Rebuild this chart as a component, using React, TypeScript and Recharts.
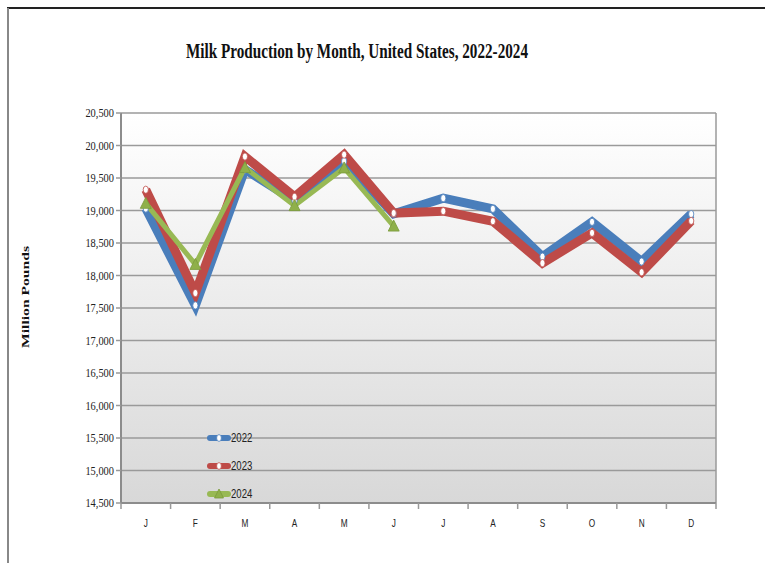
import React from 'react';
import { LineChart, Line, XAxis, YAxis, CartesianGrid, Legend } from 'recharts';

const months = ['J', 'F', 'M', 'A', 'M', 'J', 'J', 'A', 'S', 'O', 'N', 'D'];
const y2022 = [19030, 17540, 19630, 19150, 19760, 18950, 19190, 19025, 18290, 18825, 18215, 18945];
const y2023 = [19320, 17730, 19830, 19210, 19860, 18960, 18990, 18835, 18190, 18655, 18050, 18840];
const y2024: (number | null)[] = [19110, 18170, 19660, 19075, 19655, 18760, null, null, null, null, null, null];
const yTicks = [14500, 15000, 15500, 16000, 16500, 17000, 17500, 18000, 18500, 19000, 19500, 20000, 20500];

const BLUE = '#4a7ebb';
const RED = '#be4b48';
const GREEN = '#98b954';

const data = months.map((m, i) => ({ key: `${m}${i}`, month: m, '2022': y2022[i], '2023': y2023[i], '2024': y2024[i] }));

const W = 766;
const H = 563;
const PLOT_LEFT = 121;
const PLOT_RIGHT = 716;
const BAND = (PLOT_RIGHT - PLOT_LEFT) / months.length;

const YTick = ({ x, y, payload }: any) => (
  <g transform={`translate(${x},${y})`}>
    <text x={0} y={0} dy={4} textAnchor="end" fontFamily="Liberation Serif" fontSize={13} fill="#222" transform="scale(0.8,1)">
      {payload.value.toLocaleString('en-US')}
    </text>
  </g>
);

const AXIS_Y = H - 60;

const XTick = ({ x, payload, index }: any) => (
  <g>
    <line x1={x - BAND / 2} x2={x - BAND / 2} y1={AXIS_Y} y2={AXIS_Y + 6} stroke="#999" strokeWidth={1.5} />
    {index === months.length - 1 && (
      <line x1={x + BAND / 2} x2={x + BAND / 2} y1={AXIS_Y} y2={AXIS_Y + 6} stroke="#999" strokeWidth={1.5} />
    )}
    <g transform={`translate(${x},${AXIS_Y + 24})`}>
      <text textAnchor="middle" fontFamily="Liberation Sans" fontSize={11} fill="#222" transform="scale(0.75,1)">
        {months[index] ?? payload.value}
      </text>
    </g>
  </g>
);

const circleDot = (color: string) => (props: any) => {
  const { cx, cy, index } = props;
  if (cx == null || cy == null) return <g key={index} />;
  return <ellipse key={index} cx={cx} cy={cy} rx={2.6} ry={3.6} fill="#fff" stroke={color} strokeWidth={0.8} />;
};

const triDot = (props: any) => {
  const { cx, cy, index, value } = props;
  if (cx == null || cy == null || value == null) return <g key={index} />;
  return (
    <polygon
      key={index}
      points={`${cx},${cy - 6} ${cx - 5.5},${cy + 5} ${cx + 5.5},${cy + 5}`}
      fill="#8fb04a"
      stroke="#7a9a3a"
      strokeWidth={0.8}
    />
  );
};

const renderLegend = (props: any) => {
  const { payload } = props;
  return (
    <div>
      {(payload || []).map((p: any) => (
        <div key={p.value} style={{ display: 'flex', alignItems: 'center', height: 28 }}>
          <svg width={24} height={12}>
            <line x1={3} x2={21} y1={6} y2={6} stroke={p.color} strokeWidth={6} strokeLinecap="round" />
            {p.value === '2024' ? (
              <polygon points="12,1 7.5,10 16.5,10" fill="#8fb04a" stroke="#7a9a3a" strokeWidth={0.8} />
            ) : (
              <ellipse cx={12} cy={6} rx={2.4} ry={3.4} fill="#fff" stroke={p.color} strokeWidth={0.8} />
            )}
          </svg>
          <span style={{ fontFamily: 'Liberation Sans', fontSize: 12, color: '#222', display: 'inline-block', transform: 'scale(0.8,1)', transformOrigin: 'left center' }}>
            {p.value}
          </span>
        </div>
      ))}
    </div>
  );
};

export default function App() {
  return (
    <div style={{ position: 'absolute', left: 0, top: 0, width: W, height: H, background: '#fff' }}>
      <svg width={0} height={0} style={{ position: 'absolute' }}>
        <defs>
          <linearGradient id="plotBg" x1="0" y1="0" x2="0" y2="1">
            <stop offset="0%" stopColor="#ffffff" />
            <stop offset="100%" stopColor="#d8d8d8" />
          </linearGradient>
        </defs>
      </svg>
      <LineChart width={W} height={H} data={data} margin={{ top: 113, right: W - PLOT_RIGHT, left: PLOT_LEFT - 50, bottom: 30 }}>
        <CartesianGrid fill="url(#plotBg)" stroke="#9a9a9a" strokeWidth={1.5} vertical verticalPoints={[PLOT_RIGHT]} />
        <XAxis
          dataKey="key"
          height={30}
          interval={0}
          padding={{ left: BAND / 2, right: BAND / 2 }}
          axisLine={{ stroke: '#8c8c8c', strokeWidth: 2 }}
          tickLine={false}
          tick={<XTick />}
        />
        <YAxis
          width={50}
          domain={[14500, 20500]}
          ticks={yTicks}
          interval={0}
          axisLine={{ stroke: '#8c8c8c', strokeWidth: 2 }}
          tickLine={{ stroke: '#999', strokeWidth: 1.5 }}
          tickSize={5}
          tick={<YTick />}
        />
        <Legend
          layout="vertical"
          align="center"
          verticalAlign="middle"
          content={renderLegend}
          wrapperStyle={{ left: 207, top: 424, width: 60, height: 90 }}
        />
        <Line dataKey="2022" name="2022" stroke={BLUE} strokeWidth={9} strokeLinejoin="miter" strokeMiterlimit={3} dot={circleDot(BLUE)} activeDot={false} isAnimationActive={false} />
        <Line dataKey="2023" name="2023" stroke={RED} strokeWidth={9} strokeLinejoin="miter" strokeMiterlimit={3} dot={circleDot(RED)} activeDot={false} isAnimationActive={false} />
        <Line dataKey="2024" name="2024" stroke={GREEN} strokeWidth={5} strokeLinejoin="miter" strokeMiterlimit={3} dot={triDot} activeDot={false} isAnimationActive={false} />
      </LineChart>
      <svg width={W} height={H} style={{ position: 'absolute', left: 0, top: 0, pointerEvents: 'none' }}>
        <line x1={7} x2={765} y1={8} y2={8} stroke="#222" strokeWidth={2} />
        <line x1={8} x2={8} y1={8} y2={H} stroke="#888" strokeWidth={2} />
        <text x={357} y={58} textAnchor="middle" fontFamily="Liberation Serif" fontWeight="bold" fontSize={20} fill="#111" textLength={342} lengthAdjust="spacingAndGlyphs">
          Milk Production by Month, United States, 2022-2024
        </text>
        <text x={0} y={0} transform="translate(29,297) rotate(-90)" textAnchor="middle" fontFamily="Liberation Serif" fontWeight="bold" fontSize={11} fill="#111" textLength={102} lengthAdjust="spacingAndGlyphs">
          Million Pounds
        </text>
      </svg>
    </div>
  );
}
